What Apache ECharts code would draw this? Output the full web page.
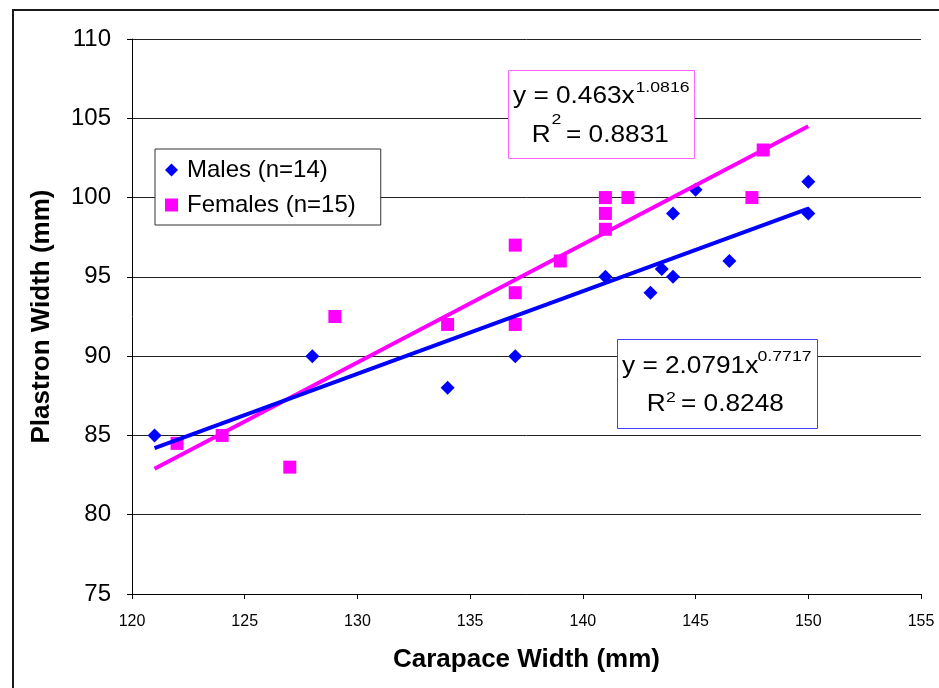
<!DOCTYPE html>
<html><head><meta charset="utf-8">
<script src="https://cdn.jsdelivr.net/npm/echarts@6/dist/echarts.min.js"></script>
<style>html,body{margin:0;padding:0;background:#fff}#c{width:939px;height:688px}</style>
</head><body><div id="c"></div>
<script>
const maleX = [121, 128, 134, 137, 141, 143, 143.5, 144, 144, 145, 146.5, 150, 150];
const maleY = [85, 90, 88, 90, 95, 94, 95.5, 95, 99, 100.5, 96, 101, 99];
const femaleX = [122, 124, 127, 129, 134, 137, 137, 137, 139, 141, 141, 141, 142, 147.5, 148];
const femaleY = [84.5, 85, 83, 92.5, 92, 97, 94, 92, 96, 100, 99, 98, 100, 100, 103];
const maleTrendX = [121, 150];
const maleTrendY = [84.2, 99.3];
const femaleTrendX = [121, 150];
const femaleTrendY = [82.9, 104.5];
const xTicks = [120, 125, 130, 135, 140, 145, 150, 155];
const yTicks = [75, 80, 85, 90, 95, 100, 105, 110];

const zip = (a, b) => a.map((v, i) => [v, b[i]]);
const F = 'Liberation Sans, Arial, sans-serif';
const SX = 1.14;
function txt(x, y, s, size) {
  return {type: 'text', x: x, y: y, scaleX: SX, z: 11, silent: true,
    style: {text: s, fontFamily: F, fontSize: size, fill: '#000', verticalAlign: 'top', align: 'left', lineHeight: size}};
}
const chart = echarts.init(document.getElementById('c'), null, {renderer: 'canvas'});
chart.setOption({
  animation: false,
  backgroundColor: '#fff',
  grid: {left: 132, top: 39, right: 18, bottom: 94},
  xAxis: {
    type: 'value', min: xTicks[0], max: xTicks[xTicks.length - 1], interval: 5,
    name: 'Carapace Width (mm)', nameLocation: 'middle', nameGap: 53,
    nameTextStyle: {fontFamily: F, fontWeight: 'bold', fontSize: 26, color: '#000'},
    axisLine: {lineStyle: {color: '#000', width: 1}},
    axisTick: {show: true, length: 5, inside: false, lineStyle: {color: '#000'}},
    axisLabel: {fontFamily: F, fontSize: 16, color: '#000', margin: 20},
    splitLine: {show: false}
  },
  yAxis: {
    type: 'value', min: yTicks[0], max: yTicks[yTicks.length - 1], interval: 5,
    name: 'Plastron Width (mm)', nameLocation: 'middle', nameGap: 77, nameRotate: 90,
    nameTextStyle: {fontFamily: F, fontWeight: 'bold', fontSize: 26, color: '#000'},
    axisLine: {show: true, lineStyle: {color: '#000', width: 1}},
    axisTick: {show: true, length: 5, lineStyle: {color: '#000'}},
    axisLabel: {fontFamily: F, fontSize: 24, color: '#000', margin: 21},
    splitLine: {show: true, lineStyle: {color: '#222', width: 1}}
  },
  series: [
    {name: 'Males (n=14)', type: 'scatter', data: zip(maleX, maleY), symbol: 'diamond', symbolSize: 14,
     itemStyle: {color: '#0000ff', opacity: 1}, z: 3},
    {name: 'Females (n=15)', type: 'scatter', data: zip(femaleX, femaleY), symbol: 'rect', symbolSize: 13,
     itemStyle: {color: '#ff00ff', opacity: 1}, z: 3},
    {type: 'line', data: zip(femaleTrendX, femaleTrendY), showSymbol: false, symbol: 'none',
     lineStyle: {color: '#ff00ff', width: 4}, z: 4},
    {type: 'line', data: zip(maleTrendX, maleTrendY), showSymbol: false, symbol: 'none',
     lineStyle: {color: '#0000ff', width: 4}, z: 4}
  ],
  legend: {
    show: true, left: 155, top: 149, orient: 'vertical',
    data: [{name: 'Males (n=14)', icon: 'diamond'}, {name: 'Females (n=15)', icon: 'rect'}],
    itemWidth: 13, itemHeight: 13, itemGap: 11,
    padding: [9, 25, 8, 10],
    borderColor: '#333', borderWidth: 1, backgroundColor: '#fff',
    itemStyle: {opacity: 1},
    textStyle: {fontFamily: F, fontSize: 24, color: '#000', lineHeight: 24, padding: [0, 0, 0, 4]}
  },
  graphic: [
    {type: 'rect', shape: {x: 13, y: 10, width: 1000, height: 1000}, silent: true,
     style: {fill: 'none', stroke: '#1a1a1a', lineWidth: 2}, z: -10},
    {type: 'rect', shape: {x: 508.5, y: 70.5, width: 186, height: 88}, silent: true,
     style: {fill: '#fff', stroke: '#ff66ff', lineWidth: 1}, z: 10},
    txt(513, 85.5, 'y = 0.463x', 23),
    txt(635.5, 80.3, '1.0816', 15.5),
    txt(531.7, 123.8, 'R', 23),
    txt(551.5, 112.3, '2', 15.5),
    txt(566, 123.8, '= 0.8831', 23),
    {type: 'rect', shape: {x: 617.5, y: 339.5, width: 200, height: 89}, silent: true,
     style: {fill: '#fff', stroke: '#3d3dff', lineWidth: 1}, z: 10},
    txt(622, 355.5, 'y = 2.0791x', 23),
    txt(757.5, 349, '0.7717', 15.5),
    txt(646.7, 393.2, 'R', 23),
    txt(666, 390, '2', 15.5),
    txt(681, 393.2, '= 0.8248', 23)
  ]
});
</script></body></html>
